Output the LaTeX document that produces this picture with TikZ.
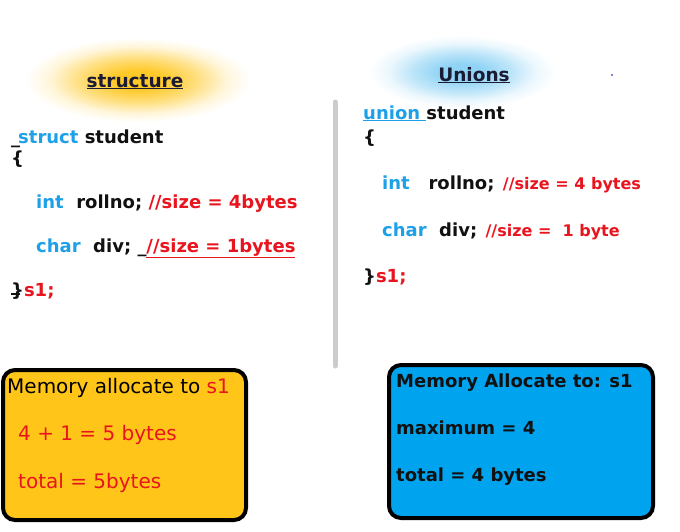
\documentclass[tikz,border=0pt]{standalone}
\usepackage{fontspec}
\setmainfont{DejaVu Sans}
\definecolor{gy}{HTML}{FFC928}
\definecolor{gb}{HTML}{8FD3F5}
\definecolor{kw}{HTML}{1EA0E8}
\definecolor{cm}{HTML}{E8141E}
\definecolor{ink}{HTML}{111111}
\definecolor{hd}{HTML}{1B1B33}
\definecolor{boxy}{HTML}{FFC619}
\definecolor{boxb}{HTML}{00A3EE}
\pgfdeclareradialshading{glowY}{\pgfpoint{0bp}{0bp}}{color(0bp)=(gy); color(5bp)=(gy); color(12bp)=(gy!60!white); color(18bp)=(gy!18!white); color(23bp)=(white); color(50bp)=(white)}
\pgfdeclareradialshading{glowB}{\pgfpoint{0bp}{0bp}}{color(0bp)=(gb); color(5bp)=(gb); color(12bp)=(gb!60!white); color(18bp)=(gb!18!white); color(23bp)=(white); color(50bp)=(white)}
\tikzset{
  code/.style={anchor=base west, inner sep=0pt, font=\bfseries\fontsize{18}{21}\selectfont, text=ink},
  small/.style={code, font=\bfseries\fontsize{16}{19}\selectfont},
  head/.style={anchor=base, inner sep=0pt, font=\bfseries\fontsize{18.5}{21}\selectfont, text=hd},
  boxtext/.style={anchor=base west, inner sep=0pt, font=\fontsize{20}{23}\selectfont},
  btext/.style={anchor=base west, inner sep=0pt, font=\bfseries\fontsize{18}{21}\selectfont, text=ink},
  membox/.style={draw=black, line width=4pt, rounded corners=12pt}
}
\begin{document}
\begin{tikzpicture}[x=1pt,y=-1pt]
\useasboundingbox (0,0) rectangle (680,531);
% glows
\shade[shading=glowY] (138,80) ellipse (122 and 46);
\shade[shading=glowB] (462,72) ellipse (102 and 40);
\node[head] (hs) at (135,87) {\underline{structure}};
\node[head] (hu) at (474,81) {\underline{Unions}};
\fill[blue!70!black] (612,75) circle (0.8);
% divider
\draw[line width=5pt, color=black!20, line cap=round] (335,102) -- (335,366);
% left code
\node[code] (l1) at (11,143) {\_\kern-2pt\textcolor{kw}{struct} student};
\node[code] (l2) at (11,164) {\{};
\node[code] (l3) at (36,208) {\textcolor{kw}{int}\ \ rollno; \textcolor{cm}{//size = 4bytes}};
\node[code] (l4) at (36,252) {\textcolor{kw}{char}\ \ div; \_\textcolor{cm}{\underline{//size = 1bytes}}};
\node[code] (l5) at (11,296) {\}\textcolor{cm}{s1;}};
\draw[ink, line width=1.6pt] ([yshift=2pt]l5.base west) -- ++(9,0);
% right code
\node[code] (r1) at (363,119) {\textcolor{kw}{\underline{union\ }}student};
\node[code] (r2) at (363,143) {\{};
\node[code] (r3) at (382,189) {\textcolor{kw}{int}\ \ \ rollno;};
\node[small, text=cm] (r3c) at (r3.base east) [xshift=8pt] {//size = 4 bytes};
\node[code] (r4) at (382,236) {\textcolor{kw}{char}\ \ div;};
\node[small, text=cm] (r4c) at (r4.base east) [xshift=8pt] {//size =\ \ 1 byte};
\node[code] (r5) at (363,282) {\}\textcolor{cm}{s1;}};
% memory boxes
\draw[membox, fill=boxy] (3,370) rectangle (246,520);
\node[boxtext] (y1) at (7,393) {Memory allocate to \textcolor{cm}{s1}};
\node[boxtext, text=cm] (y2) at (18,440) {4 + 1 = 5 bytes};
\node[boxtext, text=cm] (y3) at (18,488) {total = 5bytes};
\draw[membox, fill=boxb] (389,365) rectangle (653,518);
\node[btext] (b1) at (396,387) {Memory Allocate to: s1};
\node[btext] (b2) at (396,434) {maximum = 4};
\node[btext] (b3) at (396,481) {total = 4 bytes};
\end{tikzpicture}
\end{document}
